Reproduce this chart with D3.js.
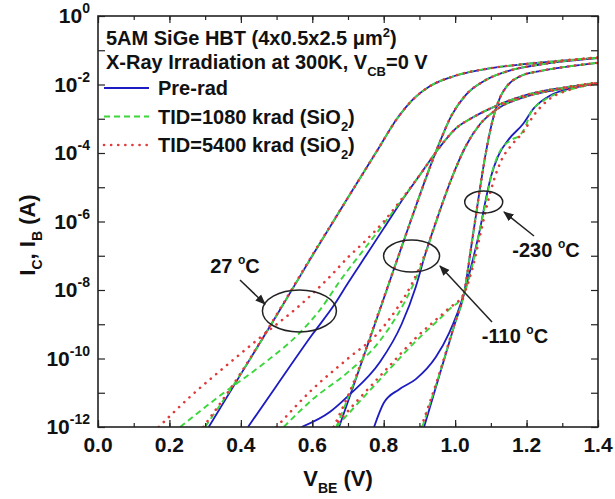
<!DOCTYPE html>
<html>
<head>
<meta charset="utf-8">
<script src="https://cdn.jsdelivr.net/npm/d3@7"></script>
<style>
  body { margin: 0; background: #fff; }
  text { font-family: "Liberation Sans", Arial, sans-serif; font-weight: bold; fill: #111; }
</style>
</head>
<body>
<div id="chart"></div>
<script>
// ---- data: [V_BE (V), current (A)] ----
// 27 C
const ic27Pre     = [[0.31,1e-12],[0.40,3.5e-11],[0.50,1.8e-9],[0.60,1e-7],[0.70,5e-6],[0.78,1.1e-4],[0.84,1.1e-3],[0.88,3.5e-3],[0.93,9e-3],[1.00,1.8e-2],[1.10,3e-2],[1.20,4e-2],[1.30,5e-2],[1.40,6e-2]];
const ic27Tid1080 = [[0.30,1e-12],[0.40,3.6e-11],[0.50,1.8e-9],[0.60,1e-7],[0.70,5e-6],[0.78,1.1e-4],[0.84,1.1e-3],[0.88,3.5e-3],[0.93,9e-3],[1.00,1.8e-2],[1.10,3e-2],[1.20,4e-2],[1.30,5e-2],[1.40,6.2e-2]];
const ic27Tid5400 = [[0.295,1e-12],[0.40,3.8e-11],[0.50,1.9e-9],[0.60,1.05e-7],[0.70,5e-6],[0.78,1.1e-4],[0.84,1.1e-3],[0.88,3.5e-3],[0.93,9e-3],[1.00,1.8e-2],[1.10,3e-2],[1.20,4e-2],[1.30,5e-2],[1.40,6.2e-2]];
const ib27Pre     = [[0.42,1e-12],[0.50,1.6e-11],[0.60,5e-10],[0.66,3.5e-9],[0.70,1.6e-8],[0.75,1e-7],[0.80,6.3e-7],[0.85,4e-6],[0.90,2.2e-5],[0.955,1.4e-4],[1.00,5e-4],[1.05,1.1e-3],[1.12,2.5e-3],[1.20,5e-3],[1.30,8e-3],[1.40,1.1e-2]];
const ib27Tid1080 = [[0.23,1e-12],[0.34,8e-12],[0.47,8e-11],[0.56,5e-10],[0.62,2.5e-9],[0.68,2e-8],[0.75,1.8e-7],[0.80,8.5e-7],[0.85,4.2e-6],[0.90,2.2e-5],[0.955,1.4e-4],[1.00,5e-4],[1.05,1.1e-3],[1.12,2.5e-3],[1.20,5e-3],[1.30,8e-3],[1.40,1.15e-2]];
const ib27Tid5400 = [[0.17,1e-12],[0.26,8e-12],[0.36,6.3e-11],[0.47,5.6e-10],[0.56,3.2e-9],[0.65,2.5e-8],[0.70,9e-8],[0.75,2.8e-7],[0.80,1e-6],[0.85,4.5e-6],[0.90,2.2e-5],[0.955,1.4e-4],[1.00,5e-4],[1.05,1.1e-3],[1.12,2.5e-3],[1.20,5e-3],[1.30,8e-3],[1.40,1.15e-2]];
// -110 C
const ic110Pre     = [[0.675,1e-12],[0.72,2.2e-11],[0.78,1.4e-9],[0.84,9e-8],[0.89,2.8e-6],[0.93,4e-5],[0.96,2.5e-4],[0.99,1.25e-3],[1.03,5e-3],[1.08,1.25e-2],[1.15,2.5e-2],[1.25,4e-2],[1.40,5.9e-2]];
const ic110Tid1080 = [[0.667,1e-12],[0.72,2.4e-11],[0.78,1.4e-9],[0.84,9e-8],[0.89,2.8e-6],[0.93,4e-5],[0.96,2.5e-4],[0.99,1.25e-3],[1.03,5e-3],[1.08,1.25e-2],[1.15,2.5e-2],[1.25,4e-2],[1.40,6e-2]];
const ic110Tid5400 = [[0.66,1e-12],[0.72,2.6e-11],[0.78,1.5e-9],[0.84,9e-8],[0.89,2.8e-6],[0.93,4e-5],[0.96,2.5e-4],[0.99,1.25e-3],[1.03,5e-3],[1.08,1.25e-2],[1.15,2.5e-2],[1.25,4e-2],[1.40,6e-2]];
const ib110Pre     = [[0.57,1e-12],[0.65,2.8e-12],[0.70,8e-12],[0.79,8e-11],[0.85,1e-9],[0.89,1.25e-8],[0.915,1e-7],[0.95,1.25e-6],[0.99,1.8e-5],[1.03,1.6e-4],[1.07,7e-4],[1.12,2e-3],[1.20,4.5e-3],[1.30,7.5e-3],[1.40,1.07e-2]];
const ib110Tid1080 = [[0.52,1e-12],[0.60,6.3e-12],[0.70,4e-11],[0.78,2.5e-10],[0.84,2e-9],[0.88,1.25e-8],[0.915,1e-7],[0.95,1.25e-6],[0.99,1.8e-5],[1.03,1.6e-4],[1.07,7e-4],[1.12,2e-3],[1.20,4.5e-3],[1.30,7.5e-3],[1.40,1.1e-2]];
const ib110Tid5400 = [[0.50,1e-12],[0.60,1.25e-11],[0.70,1e-10],[0.78,5e-10],[0.84,3.2e-9],[0.88,1.6e-8],[0.915,1.1e-7],[0.95,1.3e-6],[0.99,1.8e-5],[1.03,1.6e-4],[1.07,7e-4],[1.12,2e-3],[1.20,4.5e-3],[1.30,7.5e-3],[1.40,1.1e-2]];
// -230 C
const ic230Pre     = [[0.913,1e-12],[0.96,4.5e-11],[1.00,1.1e-9],[1.025,8e-9],[1.045,1.8e-7],[1.065,4.5e-6],[1.085,9e-5],[1.105,9e-4],[1.125,4e-3],[1.145,9e-3],[1.18,1.7e-2],[1.24,2.5e-2],[1.32,3.4e-2],[1.40,4.3e-2]];
const ic230Tid1080 = [[0.908,1e-12],[0.96,4.7e-11],[1.00,1.1e-9],[1.025,8e-9],[1.045,1.8e-7],[1.065,4.5e-6],[1.085,9e-5],[1.105,9e-4],[1.125,4e-3],[1.145,9e-3],[1.18,1.7e-2],[1.24,2.5e-2],[1.32,3.4e-2],[1.40,4.3e-2]];
const ic230Tid5400 = [[0.905,1e-12],[0.96,5e-11],[1.00,1.2e-9],[1.025,8e-9],[1.045,1.8e-7],[1.065,4.5e-6],[1.085,9e-5],[1.105,9e-4],[1.125,4e-3],[1.145,9e-3],[1.18,1.7e-2],[1.24,2.5e-2],[1.32,3.4e-2],[1.40,4.3e-2]];
const ib230Pre     = [[0.773,1e-12],[0.80,5e-12],[0.843,1.25e-11],[0.89,2.5e-11],[0.946,1.1e-10],[0.983,5.5e-10],[1.025,8e-9],[1.05,8e-8],[1.07,6.3e-7],[1.085,4e-6],[1.10,2e-5],[1.12,8e-5],[1.15,2.5e-4],[1.19,7e-4],[1.22,2e-3],[1.27,5e-3],[1.33,8e-3],[1.40,1.07e-2]];
const ib230Tid1080 = [[0.667,1e-12],[0.72,4e-12],[0.80,3.2e-11],[0.89,3.2e-10],[0.98,2.5e-9],[1.025,8e-9],[1.05,6.3e-8],[1.067,4.5e-7],[1.087,4.3e-6],[1.103,2.6e-5],[1.123,1e-4],[1.16,2.5e-4],[1.18,3.2e-4],[1.198,6.3e-4],[1.21,1.4e-3],[1.25,3.5e-3],[1.32,7e-3],[1.40,1.07e-2]];
const ib230Tid5400 = [[0.66,1e-12],[0.72,5e-12],[0.80,4e-11],[0.89,4e-10],[0.98,2.8e-9],[1.025,8e-9],[1.05,5e-8],[1.07,4e-7],[1.09,3.2e-6],[1.11,1.8e-5],[1.13,6.3e-5],[1.16,1.8e-4],[1.19,4e-4],[1.22,1.25e-3],[1.26,3.5e-3],[1.32,7e-3],[1.40,1.05e-2]];

const xTickValues = [0, 0.2, 0.4, 0.6, 0.8, 1.0, 1.2, 1.4];
const xTickLabels = ["0.0", "0.2", "0.4", "0.6", "0.8", "1.0", "1.2", "1.4"];
const yTickExponents = ["0", "-2", "-4", "-6", "-8", "-10", "-12"];

const doses = ["pre", "1080", "5400"];
const doseNames = ["Pre-rad", "TID=1080 krad (SiO", "TID=5400 krad (SiO"];

// temperature annotations: ellipse centre (V, A), label
const tempNotes = [
    {label: "27 ", v: 0.564, i: 2.45e-9, rx: 37, ry: 21, lx: 235, ly: 273, ax: [240, 280, 265, 304]},
    {label: "-110 ", v: 0.878, i: 9.8e-8, rx: 28, ry: 16, lx: 515, ly: 343, ax: [492, 322, 440, 266]},
    {label: "-230 ", v: 1.08, i: 3.7e-6, rx: 19, ry: 11, lx: 546, ly: 257, ax: [534, 236, 504, 212]}
];

// ---- layout ----
const W = 615, H = 499;
const plot = {left: 98, right: 598, top: 16, bottom: 427};

const svg = d3.select("#chart").append("svg")
    .attr("width", W).attr("height", H)
    .style("background", "#fff");

const x = d3.scaleLinear().domain([0, 1.4]).range([plot.left, plot.right]);
const y = d3.scaleLog().domain([1e-12, 1]).range([plot.bottom, plot.top]);

const styles = {
    pre:  {color: "#1c1cc0", dash: null, width: 1.8, cap: "butt"},
    "1080": {color: "#3ad63a", dash: "6,4", width: 1.9, cap: "butt"},
    "5400": {color: "#e03a3a", dash: "0.1,7", width: 2.6, cap: "round"}
};

const series = [
    {data: ic27Pre, dose: "pre"}, {data: ib27Pre, dose: "pre"},
    {data: ic110Pre, dose: "pre"}, {data: ib110Pre, dose: "pre"},
    {data: ic230Pre, dose: "pre"}, {data: ib230Pre, dose: "pre"},
    {data: ic27Tid1080, dose: "1080"}, {data: ib27Tid1080, dose: "1080"},
    {data: ic110Tid1080, dose: "1080"}, {data: ib110Tid1080, dose: "1080"},
    {data: ic230Tid1080, dose: "1080"}, {data: ib230Tid1080, dose: "1080"},
    {data: ic27Tid5400, dose: "5400"}, {data: ib27Tid5400, dose: "5400"},
    {data: ic110Tid5400, dose: "5400"}, {data: ib110Tid5400, dose: "5400"},
    {data: ic230Tid5400, dose: "5400"}, {data: ib230Tid5400, dose: "5400"}
];

svg.append("defs").append("clipPath").attr("id", "clip")
    .append("rect")
    .attr("x", plot.left).attr("y", plot.top)
    .attr("width", plot.right - plot.left).attr("height", plot.bottom - plot.top);

const line = d3.line()
    .x(d => x(d[0]))
    .y(d => y(d[1]))
    .curve(d3.curveMonotoneX);

const curves = svg.append("g").attr("clip-path", "url(#clip)");
series.forEach(s => {
    let st = styles[s.dose];
    curves.append("path")
        .datum(s.data)
        .attr("d", line)
        .attr("fill", "none")
        .attr("stroke", st.color)
        .attr("stroke-width", st.width)
        .attr("stroke-linecap", st.cap)
        .attr("stroke-dasharray", st.dash);
});

// ---- axes (ticks inward) ----
const xMinor = d3.range(0, 1.41, 0.1);
svg.append("g")
    .attr("transform", "translate(0," + plot.bottom + ")")
    .call(d3.axisBottom(x).tickValues(xMinor).tickSize(-4).tickFormat(""));
svg.append("g")
    .attr("transform", "translate(0," + plot.bottom + ")")
    .call(d3.axisBottom(x).tickValues(xTickValues).tickSize(-7).tickFormat(""));
svg.append("g")
    .attr("transform", "translate(0," + plot.top + ")")
    .call(d3.axisTop(x).tickValues(xMinor).tickSize(-4).tickFormat(""));
svg.append("g")
    .attr("transform", "translate(0," + plot.top + ")")
    .call(d3.axisTop(x).tickValues(xTickValues).tickSize(-7).tickFormat(""));

const yAll = y.ticks();
const yMajor = yAll.filter(d => Math.abs(Math.log10(d) - Math.round(Math.log10(d))) < 1e-6);
const yMinor = yAll.filter(d => yMajor.indexOf(d) < 0);
[[plot.left, d3.axisLeft], [plot.right, d3.axisRight]].forEach(a => {
    svg.append("g").attr("transform", "translate(" + a[0] + ",0)")
        .call(a[1](y).tickValues(yMinor).tickSize(-3.5).tickFormat(""));
    svg.append("g").attr("transform", "translate(" + a[0] + ",0)")
        .call(a[1](y).tickValues(yMajor).tickSize(-7).tickFormat(""));
});
svg.selectAll(".domain").remove();
svg.selectAll(".tick line").attr("stroke", "#222").attr("stroke-width", 1.2);

svg.append("rect")
    .attr("x", plot.left).attr("y", plot.top)
    .attr("width", plot.right - plot.left).attr("height", plot.bottom - plot.top)
    .attr("fill", "none").attr("stroke", "#222").attr("stroke-width", 1.6);

// tick labels
svg.selectAll(".xlab").data(xTickValues).enter().append("text")
    .attr("x", d => x(d)).attr("y", plot.bottom + 25)
    .attr("text-anchor", "middle")
    .style("font-size", "21px")
    .text((d, i) => xTickLabels[i]);

yTickExponents.forEach(e => {
    let t = svg.append("text")
        .attr("x", plot.left - 8)
        .attr("y", y(Math.pow(10, +e)) + 7)
        .attr("text-anchor", "end")
        .style("font-size", "21px");
    t.append("tspan").text("10");
    t.append("tspan").attr("dy", -10).style("font-size", "14px").text(e);
});

// axis titles
const xt = svg.append("text")
    .attr("x", 338).attr("y", 486)
    .attr("text-anchor", "middle")
    .style("font-size", "22px");
xt.append("tspan").text("V");
xt.append("tspan").attr("dy", 7).style("font-size", "14px").text("BE");
xt.append("tspan").attr("dy", -7).text(" (V)");

const yt = svg.append("text")
    .attr("transform", "translate(35,235) rotate(-90)")
    .attr("text-anchor", "middle")
    .style("font-size", "22px");
yt.append("tspan").text("I");
yt.append("tspan").attr("dy", 7).style("font-size", "14px").text("C");
yt.append("tspan").attr("dy", -7).text(", I");
yt.append("tspan").attr("dy", 7).style("font-size", "14px").text("B");
yt.append("tspan").attr("dy", -7).text(" (A)");

// ---- legend / description ----
const t1 = svg.append("text").attr("x", 106).attr("y", 45).style("font-size", "20px");
t1.append("tspan").text("5AM SiGe HBT (4x0.5x2.5 \u03bcm");
t1.append("tspan").attr("dy", -8).style("font-size", "13px").text("2");
t1.append("tspan").attr("dy", 8).text(")");

const t2 = svg.append("text").attr("x", 106).attr("y", 69).style("font-size", "20px");
t2.append("tspan").text("X-Ray Irradiation at 300K, V");
t2.append("tspan").attr("dy", 7).style("font-size", "13px").text("CB");
t2.append("tspan").attr("dy", -7).text("=0 V");

doses.forEach((k, i) => {
    let ly = 95 + i * 28.5;
    let st = styles[k];
    svg.append("line")
        .attr("x1", 104).attr("x2", 149).attr("y1", ly - 7).attr("y2", ly - 7)
        .attr("stroke", st.color).attr("stroke-width", st.width)
        .attr("stroke-linecap", st.cap).attr("stroke-dasharray", st.dash);
    let t = svg.append("text").attr("x", 158).attr("y", ly).style("font-size", "20px");
    t.append("tspan").text(doseNames[i]);
    if (i > 0) {
        t.append("tspan").attr("dy", 7).style("font-size", "13px").text("2");
        t.append("tspan").attr("dy", -7).text(")");
    }
});

// ---- temperature annotations ----
svg.append("defs").append("marker")
    .attr("id", "arrow").attr("viewBox", "0 0 10 10")
    .attr("refX", 9).attr("refY", 5)
    .attr("markerWidth", 7).attr("markerHeight", 7)
    .attr("orient", "auto")
    .append("path").attr("d", "M0,1 L10,5 L0,9 Z").attr("fill", "#222");

tempNotes.forEach(n => {
    svg.append("ellipse")
        .attr("cx", x(n.v)).attr("cy", y(n.i))
        .attr("rx", n.rx).attr("ry", n.ry)
        .attr("fill", "none").attr("stroke", "#222").attr("stroke-width", 1.5);
    svg.append("line")
        .attr("x1", n.ax[0]).attr("y1", n.ax[1]).attr("x2", n.ax[2]).attr("y2", n.ax[3])
        .attr("stroke", "#222").attr("stroke-width", 1.5)
        .attr("marker-end", "url(#arrow)");
    let t = svg.append("text").attr("x", n.lx).attr("y", n.ly)
        .attr("text-anchor", "middle").style("font-size", "20px");
    t.append("tspan").text(n.label);
    t.append("tspan").attr("dy", -9).style("font-size", "12px").text("o");
    t.append("tspan").attr("dy", 9).text("C");
});
</script>
</body>
</html>
